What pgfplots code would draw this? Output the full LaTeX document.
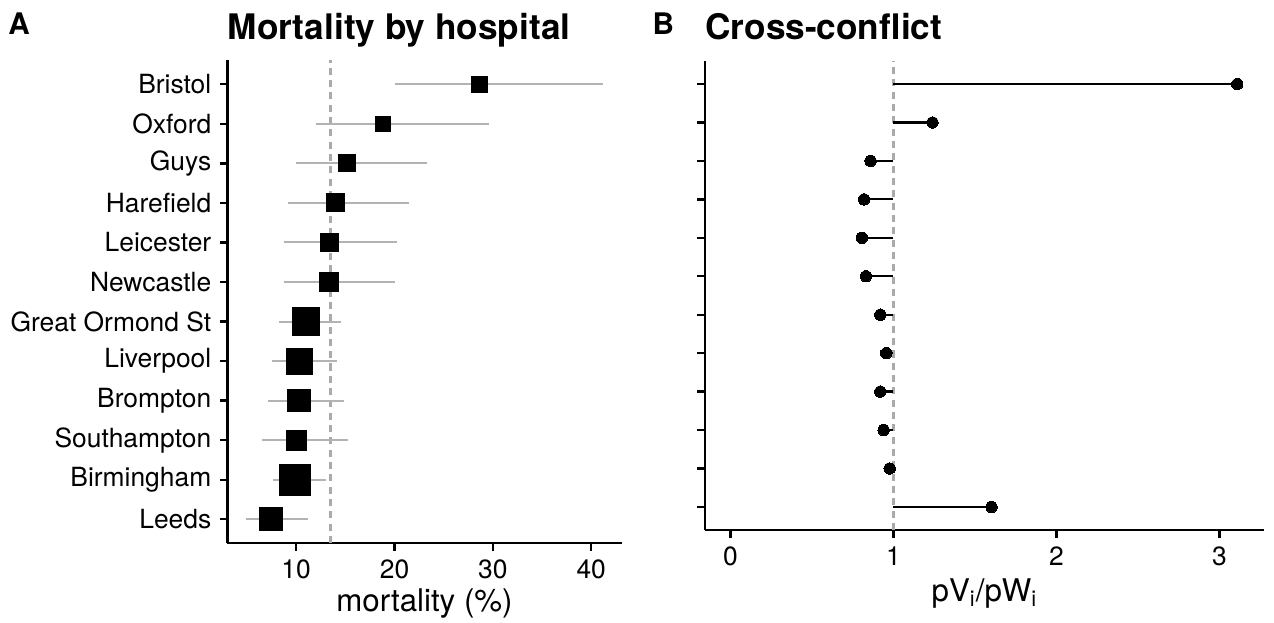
\documentclass[border=0pt]{standalone}
\usepackage{pgfplots}
\pgfplotsset{compat=1.18}
\usepackage{pgfplotstable}
\usepackage{fontspec}
\setmainfont{TeX Gyre Heros}
\definecolor{errgray}{RGB}{179,179,179}
\definecolor{refgray}{RGB}{170,170,170}
\pgfplotstableread{
y x lo hi s
12 28.6 20.0 41.2 3.64
11 18.8 12.0 29.6 3.41
10 15.2 10.0 23.3 3.86
9 14.0 9.2 21.5 4.09
8 13.4 8.75 20.3 4.09
7 13.3 8.8 20.1 4.32
6 11.0 8.25 14.6 6.3
5 10.3 7.5 14.2 5.9
4 10.3 7.1 14.9 5.16
3 10.0 6.55 15.3 4.55
2 9.9 7.6 13.05 7.05
1 7.4 4.9 11.2 5.23
}\hosp
\pgfplotstableread{
y r
12 3.11
11 1.24
10 0.86
9 0.82
8 0.807
7 0.832
6 0.92
5 0.956
4 0.92
3 0.94
2 0.977
1 1.602
}\ratio
\pgfplotsset{
  panel/.style={
    scale only axis, axis lines=left, axis line style={-, line width=1.1pt},
    tick align=outside, major tick length=3.5pt, tick style={black, line width=1.1pt},
    ymin=0.4, ymax=12.6, ytick={1,...,12},
    /pgf/number format/assume math mode=true,
    ticklabel style={font=\fontsize{12}{14}\selectfont},
    xticklabel style={anchor=north, inner sep=0pt, yshift=-3.8pt},
    yticklabel style={anchor=east, inner sep=0pt, xshift=-3.6pt},
    label style={font=\fontsize{14.2}{16}\selectfont},
    clip=false,
  }
}
\begin{document}
\begin{tikzpicture}
\useasboundingbox (0,0) rectangle (579.09pt,283.18pt);
\begin{axis}[panel, at={(103.32pt,255.68pt)}, anchor=north west, width=179.27pt, height=219.32pt,
  xmin=3.0, xmax=43.1, xtick={10,20,30,40},
  yticklabels={Leeds,Birmingham,Southampton,Brompton,Liverpool,Great Ormond St,Newcastle,Leicester,Harefield,Guys,Oxford,Bristol},
  xlabel={mortality (\%)}, xlabel style={at={(axis description cs:0.5,0)}, anchor=base, inner sep=0pt, yshift=-31.3pt}]
\addplot[refgray, line width=1.05pt, dash pattern=on 3.2pt off 2.4pt] coordinates {(13.5,0.4) (13.5,12.6)};
\addplot[errgray, line width=0.9pt, quiver={u=\thisrow{hi}-\thisrow{lo}, v=0}] table[x=lo, y=y]{\hosp};
\addplot[scatter, only marks, mark=square*, scatter/use mapped color={draw=black, fill=black}, mark options={line width=0pt},
  visualization depends on={\thisrow{s}\as\msz}, scatter/@pre marker code/.append style={/tikz/mark size=\msz}] table[x=x, y=y]{\hosp};
\end{axis}
\begin{axis}[panel, at={(320.45pt,255.45pt)}, anchor=north west, width=254.09pt, height=213.18pt,
  xmin=-0.156, xmax=3.274, xtick={0,1,2,3}, yticklabels={},
  xlabel={pV\textsubscript{i}/pW\textsubscript{i}}, xlabel style={at={(axis description cs:0.5,0)}, anchor=base, inner sep=0pt, yshift=-32.5pt}]
\addplot[refgray, line width=1.05pt, dash pattern=on 3.2pt off 2.4pt] coordinates {(1,0.4) (1,12.6)};
\addplot[black, line width=1pt, quiver={u=\thisrow{r}-1, v=0}] table[x expr=1, y=y]{\ratio};
\addplot[only marks, mark=*, mark size=2.6pt, mark options={fill=black, draw=black, line width=0pt}] table[x=r, y=y]{\ratio};
\end{axis}
\node[anchor=base west, inner sep=0pt, font=\bfseries\fontsize{16}{19}\selectfont] at (103.32pt,265pt) {Mortality by hospital};
\node[anchor=base west, inner sep=0pt, font=\bfseries\fontsize{16}{19}\selectfont] at (320.45pt,265pt) {Cross-conflict};
\node[anchor=base west, inner sep=0pt, font=\bfseries\fontsize{13.5}{15}\selectfont] at (3.6pt,267.3pt) {A};
\node[anchor=base west, inner sep=0pt, font=\bfseries\fontsize{13.5}{15}\selectfont] at (296.4pt,267.3pt) {B};
\end{tikzpicture}
\end{document}
